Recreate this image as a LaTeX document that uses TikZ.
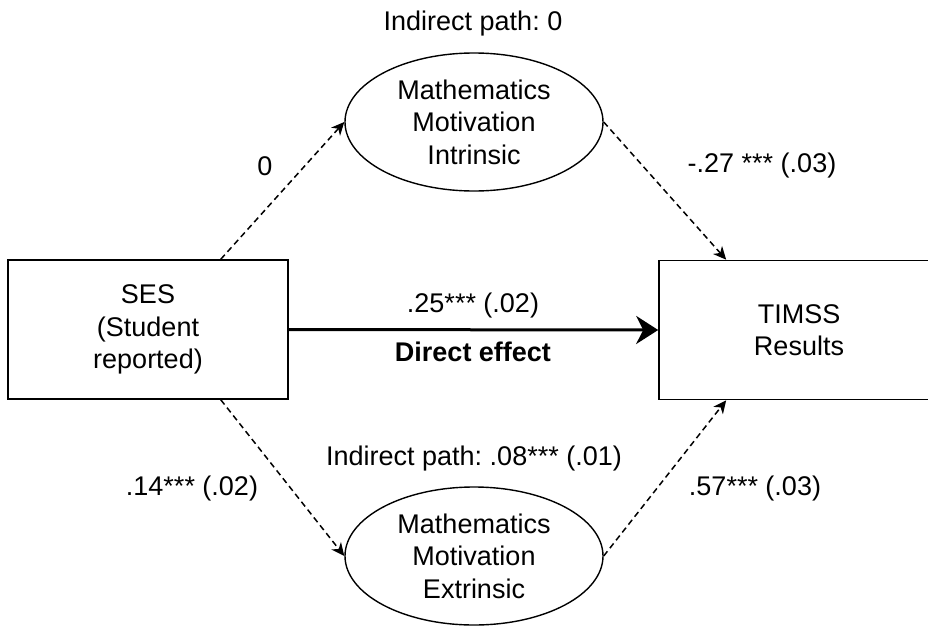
\documentclass[tikz,border=0pt]{standalone}
\usepackage{fontspec}
\setmainfont{Liberation Sans}
\usetikzlibrary{shapes.geometric, arrows.meta}
\frenchspacing
\begin{document}
\begin{tikzpicture}[x=1pt, y=-1pt, every node/.style={font=\fontsize{27}{32.5}\selectfont}]
    % Styles
    \tikzstyle{observed} = [rectangle, minimum width=280pt, minimum height=139pt, align=center, draw=black, line width=1.6pt]
    \tikzstyle{latent} = [ellipse, minimum width=258pt, minimum height=138pt, inner sep=0pt, align=center, draw=black, line width=1.4pt]
    \tikzstyle{arrow} = [line width=1.5pt, dash pattern=on 6pt off 4pt, -{Stealth[length=13pt, width=12pt, inset=4pt]}]
    \tikzstyle{direct} = [line width=3pt, -{Stealth[length=22pt, width=28pt, inset=7pt]}]
    \tikzstyle{caption} = [align=center]

    \useasboundingbox (0,0) rectangle (928,626);

    % Nodes
    \node (ses)   [observed] at (148,329.5) {SES\\(Student\\reported)};
    \node (timss) [observed] at (799,330) {TIMSS\\Results};
    \node (intr)  [latent] at (474,122) {Mathematics\\Motivation\\Intrinsic};
    \node (extr)  [latent] at (474,556) {Mathematics\\Motivation\\Extrinsic};

    % Arrows
    \draw [arrow] ([xshift=-68pt]ses.north east) -- (intr.west);
    \draw [arrow] ([xshift=-68pt]ses.south east) -- (extr.west);
    \draw [arrow] (intr.east) -- ([xshift=68pt]timss.north west);
    \draw [arrow] (extr.east) -- ([xshift=68pt]timss.south west);
    \draw [direct] (ses.east) -- (timss.west);

    % Captions
    \node (indtop) [caption] at (473,24) {Indirect path: 0};
    \node (indbot) [caption] at (474,459) {Indirect path: .08*** (.01)};
    \node (aint)   [caption] at (265,166) {0};
    \node (bint)   [caption] at (762,166) {-.27 *** (.03)};
    \node (aext)   [caption] at (192,489) {.14*** (.02)};
    \node (bext)   [caption] at (755,489) {.57*** (.03)};
    \node (coef)   [caption] at (473,306) {.25*** (.02)};
    \node (deff)   [caption] at (473,352) {\textbf{Direct effect}};
\end{tikzpicture}
\end{document}
